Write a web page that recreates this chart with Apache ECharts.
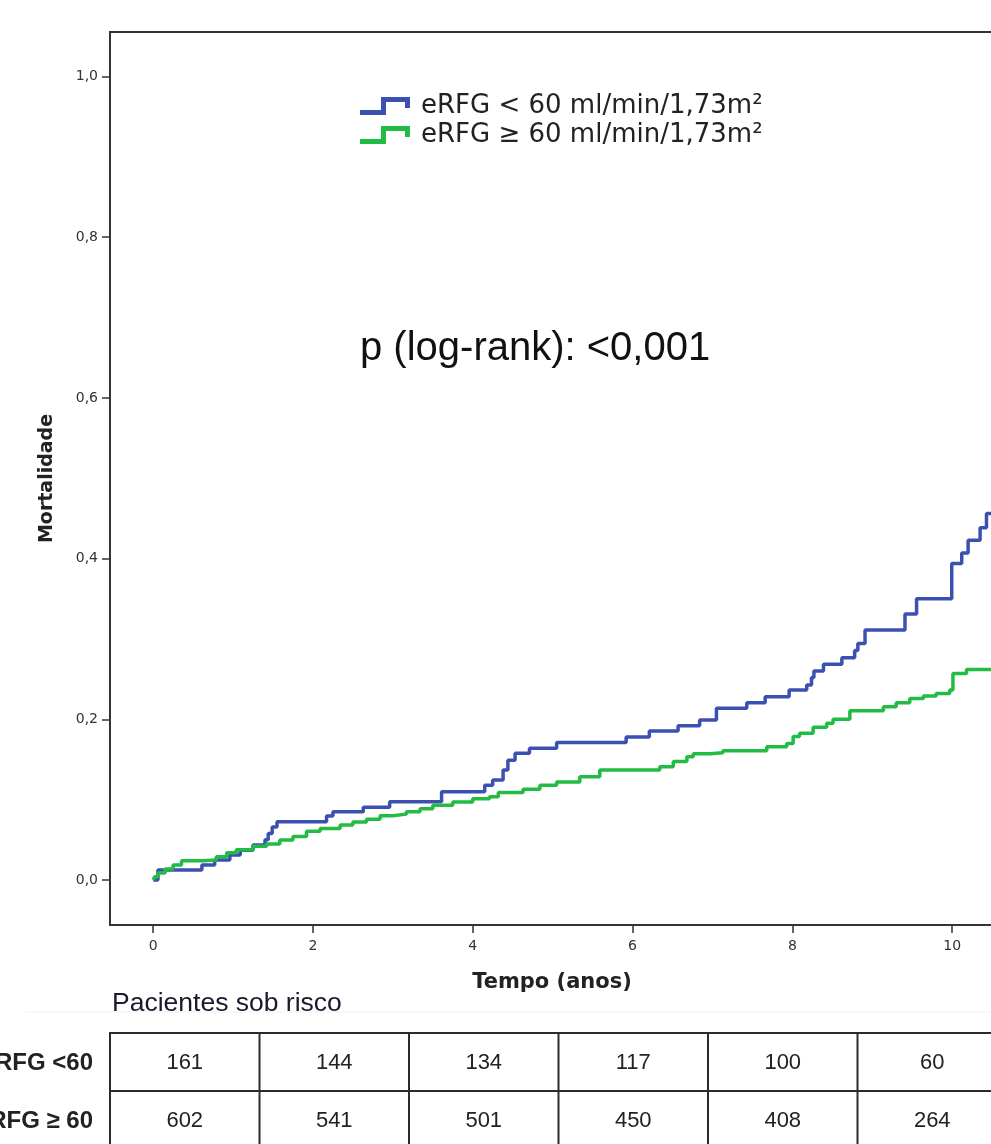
<!DOCTYPE html>
<html>
<head>
<meta charset="utf-8">
<script src="https://cdn.jsdelivr.net/npm/echarts@6/dist/echarts.min.js"></script>
<style>
  html, body { margin: 0; padding: 0; background: #fff; overflow: hidden; }
  #chart { width: 991px; height: 1144px; }
</style>
</head>
<body>
<div id="chart"></div>
<script>
// Kaplan-Meier cumulative mortality by eGFR group: [time (years), cumulative mortality]
const seriesNames = ['eRFG < 60 ml/min/1,73m²', 'eRFG ≥ 60 ml/min/1,73m²'];

const lowGfr = [
  [0, 0], [0.06, 0.0124], [0.61, 0.0187], [0.77, 0.025], [0.96, 0.031], [1.09, 0.037],
  [1.25, 0.0435], [1.40, 0.05], [1.44, 0.058], [1.49, 0.066], [1.55, 0.0726], [2.17, 0.0797],
  [2.25, 0.085], [2.63, 0.0904], [2.96, 0.0975], [3.61, 0.1098], [4.15, 0.118], [4.25, 0.1245],
  [4.38, 0.137], [4.44, 0.149], [4.53, 0.1577], [4.71, 0.164], [5.05, 0.171], [5.92, 0.178],
  [6.21, 0.1854], [6.57, 0.192], [6.84, 0.199], [7.05, 0.2137], [7.43, 0.2207], [7.66, 0.228],
  [7.96, 0.2365], [8.18, 0.2427], [8.24, 0.252], [8.27, 0.26], [8.39, 0.2684], [8.62, 0.2767],
  [8.78, 0.2855], [8.82, 0.2945], [8.91, 0.311], [9.41, 0.331], [9.555, 0.35], [9.995, 0.394],
  [10.12, 0.407], [10.2, 0.423], [10.35, 0.4385], [10.43, 0.456], [10.52, 0.456]
];

const highGfr = [
  [0, 0], [0.02, 0.004], [0.06, 0.0087], [0.15, 0.0137], [0.25, 0.0187], [0.355, 0.0241],
  [0.62, 0.025], [0.79, 0.029], [0.92, 0.034], [1.04, 0.0377], [1.25, 0.042], [1.42, 0.0448],
  [1.585, 0.0498], [1.75, 0.054], [1.92, 0.0606], [2.09, 0.064], [2.34, 0.0684], [2.50, 0.0722],
  [2.67, 0.0755], [2.84, 0.080], [3.0, 0.082], [3.17, 0.085], [3.34, 0.0887], [3.50, 0.093],
  [3.75, 0.097], [4.0, 0.101], [4.21, 0.1037], [4.32, 0.109], [4.63, 0.113], [4.84, 0.118],
  [5.05, 0.122], [5.34, 0.1286], [5.59, 0.137], [6.34, 0.141], [6.51, 0.1475], [6.68, 0.1535],
  [6.76, 0.157], [6.97, 0.1585], [7.13, 0.161], [7.68, 0.166], [7.93, 0.170], [8.01, 0.1785],
  [8.09, 0.1826], [8.26, 0.190], [8.43, 0.195], [8.51, 0.200], [8.72, 0.2106], [9.14, 0.2157],
  [9.30, 0.2207], [9.47, 0.226], [9.64, 0.229], [9.80, 0.232], [9.97, 0.2365], [10.01, 0.257],
  [10.18, 0.262], [10.52, 0.263]
];

const xTicks = [0, 2, 4, 6, 8, 10];
const yTicks = [0, 0.2, 0.4, 0.6, 0.8, 1.0];

// Patients at risk table
const riskRowLabels = ['eRFG <60', 'eRFG ≥ 60'];
const riskLow = [161, 144, 134, 117, 100, 60];
const riskHigh = [602, 541, 501, 450, 408, 264];

const colors = ['#3c50b2', '#22bb44'];

// step-shaped legend glyph
const stepIcon = 'path://M0,13 L21,13 L21,0 L50,0 L50,11 L45,11 L45,5 L26,5 L26,18 L0,18 Z';

const chart = echarts.init(document.getElementById('chart'), null, { renderer: 'canvas' });

// patients-at-risk table
const tableLeft = 110, colW = 149.5, tableTop = 1033, rowH = 58;
const tableGraphics = [];
const lineStyle = { stroke: '#2b2b2b', lineWidth: 2 };
for (let r = 0; r <= 2; r++) {
  tableGraphics.push({ type: 'line', shape: { x1: tableLeft, y1: tableTop + r * rowH, x2: 1000, y2: tableTop + r * rowH }, style: lineStyle, silent: true });
}
for (let c = 0; c <= riskLow.length; c++) {
  const x = tableLeft + c * colW;
  tableGraphics.push({ type: 'line', shape: { x1: x, y1: tableTop - 1, x2: x, y2: tableTop + 2 * rowH + 2 }, style: lineStyle, silent: true });
}
[riskLow, riskHigh].forEach((row, r) => {
  row.forEach((v, c) => {
    tableGraphics.push({
      type: 'text', x: tableLeft + (c + 0.5) * colW, y: tableTop + (r + 0.5) * rowH + 1,
      style: { text: String(v), font: '22px "Liberation Sans", Arial, sans-serif', fill: '#222', align: 'center', verticalAlign: 'middle' },
      silent: true
    });
  });
  tableGraphics.push({
    type: 'text', x: 93, y: tableTop + (r + 0.5) * rowH + 1,
    style: { text: riskRowLabels[r], font: 'bold 24px "Liberation Sans", Arial, sans-serif', fill: '#222', align: 'right', verticalAlign: 'middle' },
    silent: true
  });
});

const option = {
  backgroundColor: '#fff',
  animation: false,
  color: colors,
  grid: {
    left: 110, top: 32, width: 884, height: 893,
    show: true, borderColor: '#333', borderWidth: 2, backgroundColor: 'transparent',
    containLabel: false, outerBoundsMode: 'none'
  },
  legend: {
    orient: 'vertical', left: 355, top: 88,
    itemWidth: 50, itemHeight: 18, itemGap: 3,
    icon: stepIcon,
    data: seriesNames,
    textStyle: { fontFamily: 'DejaVu Sans', fontSize: 26, color: '#222', padding: [0, 0, 0, 6] }
  },
  xAxis: {
    type: 'value', min: -0.54, max: 10.524,
    name: 'Tempo (anos)', nameLocation: 'middle', nameGap: 47,
    nameTextStyle: { fontFamily: 'DejaVu Sans', fontWeight: 'bold', fontSize: 21, color: '#222' },
    axisLine: { show: false, onZero: false },
    axisTick: { show: true, inside: false, length: 8, lineStyle: { color: '#333', width: 1.5 }, customValues: xTicks },
    axisLabel: { customValues: xTicks, fontFamily: 'DejaVu Sans', fontSize: 14, color: '#333', margin: 14, formatter: v => String(v) },
    splitLine: { show: false }
  },
  yAxis: {
    type: 'value', min: -0.056, max: 1.0554,
    name: 'Mortalidade', nameLocation: 'middle', nameGap: 53, nameRotate: 90,
    nameTextStyle: { fontFamily: 'DejaVu Sans', fontWeight: 'bold', fontSize: 19, color: '#222' },
    axisLine: { show: false, onZero: false },
    axisTick: { show: true, inside: false, length: 8, lineStyle: { color: '#333', width: 1.5 }, customValues: yTicks },
    axisLabel: { customValues: yTicks, fontFamily: 'DejaVu Sans', fontSize: 14, color: '#333', margin: 12, formatter: v => v.toFixed(1).replace('.', ',') },
    splitLine: { show: false }
  },
  series: [
    { name: seriesNames[0], type: 'line', step: 'end', data: lowGfr, showSymbol: false, symbol: 'none', lineStyle: { width: 3.5, color: colors[0] }, z: 3 },
    { name: seriesNames[1], type: 'line', step: 'end', data: highGfr, showSymbol: false, symbol: 'none', lineStyle: { width: 3.5, color: colors[1] }, z: 4 }
  ],
  graphic: [
    { type: 'text', left: 360, top: 329, style: { text: 'p (log-rank): <0,001', font: '40px "Liberation Sans", Arial, sans-serif', fill: '#111' }, silent: true },
    { type: 'line', shape: { x1: 25, y1: 1012, x2: 991, y2: 1012 }, style: { stroke: '#f1f1f1', lineWidth: 1 }, silent: true },
    { type: 'text', left: 112, top: 990, style: { text: 'Pacientes sob risco', font: '26.5px "Liberation Sans", Arial, sans-serif', fill: '#1a1a2e' }, silent: true },
    ...tableGraphics
  ]
};

chart.setOption(option);
</script>
</body>
</html>
